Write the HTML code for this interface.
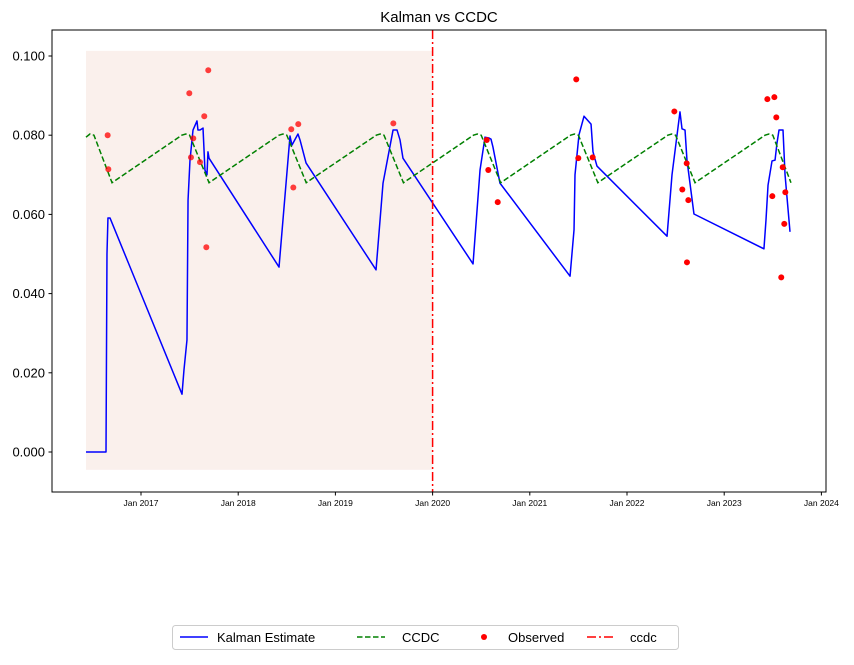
<!DOCTYPE html>
<html><head><meta charset="utf-8"><style>
body{margin:0;background:#fff;width:854px;height:660px;overflow:hidden}
svg text{font-family:"Liberation Sans",sans-serif}
</style></head><body>
<svg id="chart" width="854" height="660" xmlns="http://www.w3.org/2000/svg"></svg>
<script>
const kalmanYears=[2016.434,2016.640,2016.650,2016.660,2016.681,2017.422,2017.442,2017.473,2017.484,2017.504,2017.535,2017.576,2017.586,2017.607,2017.638,2017.658,2017.679,2017.689,2017.700,2018.420,2018.533,2018.553,2018.615,2018.636,2018.698,2019.418,2019.490,2019.593,2019.634,2019.665,2019.695,2020.416,2020.488,2020.539,2020.580,2020.601,2020.621,2020.693,2021.414,2021.455,2021.465,2021.506,2021.558,2021.630,2021.650,2021.691,2022.412,2022.463,2022.545,2022.566,2022.597,2022.617,2022.689,2023.409,2023.430,2023.451,2023.492,2023.523,2023.543,2023.564,2023.605,2023.626,2023.677];
const kalmanValues=[0,0,0.050,0.0591,0.0591,0.0146,0.0207,0.0283,0.0636,0.0737,0.0813,0.0836,0.0813,0.0813,0.0818,0.0712,0.0700,0.0758,0.0742,0.0467,0.0798,0.0775,0.0803,0.0788,0.0730,0.0460,0.0679,0.0813,0.0813,0.0788,0.0742,0.0475,0.0712,0.0795,0.0793,0.0790,0.0770,0.0679,0.0444,0.0561,0.0700,0.0801,0.0848,0.0828,0.0758,0.0722,0.0545,0.0700,0.0859,0.0816,0.0813,0.0737,0.0601,0.0513,0.0586,0.0674,0.0735,0.0737,0.0780,0.0813,0.0813,0.0700,0.0556];
const ccdcYears=[2016.434,2016.475,2016.516,2016.702,2017.42,2017.46,2017.50,2017.70,2018.42,2018.46,2018.50,2018.70,2019.42,2019.46,2019.50,2019.70,2020.42,2020.46,2020.50,2020.70,2021.42,2021.46,2021.50,2021.70,2022.42,2022.46,2022.50,2022.70,2023.42,2023.46,2023.50,2023.687];
const ccdcValues=[0.0795,0.0803,0.0800,0.068,0.0800,0.0803,0.0800,0.068,0.0800,0.0803,0.0800,0.068,0.0800,0.0803,0.0800,0.068,0.0800,0.0803,0.0800,0.068,0.0800,0.0803,0.0800,0.068,0.0800,0.0803,0.0800,0.068,0.0800,0.0803,0.0800,0.068];
const obsYears=[2016.657,2016.664,2017.497,2017.692,2017.651,2017.538,2017.514,2017.607,2017.672,2018.546,2018.618,2018.567,2019.596,2021.478,2020.573,2020.670,2020.557,2021.499,2021.647,2022.487,2022.614,2022.569,2022.631,2022.617,2023.444,2023.516,2023.536,2023.602,2023.495,2023.629,2023.618,2023.587];
const obsValues=[0.0800,0.0714,0.0906,0.0964,0.0848,0.0792,0.0744,0.0732,0.0517,0.0815,0.0828,0.0668,0.0830,0.0941,0.0712,0.0631,0.0788,0.0742,0.0744,0.0860,0.0729,0.0663,0.0636,0.0479,0.0891,0.0896,0.0845,0.0719,0.0646,0.0656,0.0576,0.0441];
const yTicks=[0,0.02,0.04,0.06,0.08,0.10];
const yTickLabels=["0.000","0.020","0.040","0.060","0.080","0.100"];
const xTicks=[2017,2018,2019,2020,2021,2022,2023,2024];
const xTickLabels=["Jan 2017","Jan 2018","Jan 2019","Jan 2020","Jan 2021","Jan 2022","Jan 2023","Jan 2024"];
const breakYear=2020.0;
const shadeRange=[2016.434,2020.0,-0.0045,0.1013];

const L=52,R=826,T=30,B=492;
const xs=t=>141+(t-2017)*97.2;
const ys=v=>452-v*3960;
const svg=document.getElementById('chart');
const NS='http://www.w3.org/2000/svg';
function mk(tag,attrs,parent){const e=document.createElementNS(NS,tag);for(const k in attrs)e.setAttribute(k,attrs[k]);(parent||svg).appendChild(e);return e;}

let e=mk('rect',{x:L,y:T,width:R-L,height:B-T,fill:'#fff'});


e=mk('rect',{x:xs(shadeRange[0]),y:ys(shadeRange[3]),width:xs(shadeRange[1])-xs(shadeRange[0]),height:ys(shadeRange[2])-ys(shadeRange[3]),fill:'#faf0ec'});



e=mk('polyline',{points:kalmanYears.map((t,i)=>xs(t)+','+ys(kalmanValues[i])).join(' '),fill:'none',stroke:'#0000ff','stroke-width':1.5,'stroke-linejoin':'round'});


e=mk('polyline',{points:ccdcYears.map((t,i)=>xs(t)+','+ys(ccdcValues[i])).join(' '),fill:'none',stroke:'#008000','stroke-width':1.5,'stroke-dasharray':'5.5,2.5'});


obsYears.forEach((t,i)=>{
  const c=mk('circle',{cx:xs(t),cy:ys(obsValues[i]),r:3,fill:'#ff0000','fill-opacity':t<breakYear?0.75:1});
  
  
});
e=mk('line',{x1:xs(breakYear),x2:xs(breakYear),y1:T,y2:B,stroke:'#ff0000','stroke-width':1.5,'stroke-dasharray':'9,3,2,3'});



e=mk('rect',{x:L,y:T,width:R-L,height:B-T,fill:'none',stroke:'#000','stroke-width':1});



yTicks.forEach((v,i)=>{
  const tk=mk('line',{x1:L-3.5,x2:L,y1:ys(v),y2:ys(v),stroke:'#000'});
  
  
  const tx=mk('text',{x:L-7,y:ys(v)+4.5,'text-anchor':'end','font-size':13});
  tx.textContent=yTickLabels[i];
  
  
});
xTicks.forEach((t,i)=>{
  const tk=mk('line',{x1:xs(t),x2:xs(t),y1:B,y2:B+3.5,stroke:'#000'});
  
  
  const tx=mk('text',{x:xs(t),y:B+14,'text-anchor':'middle','font-size':8.5});
  tx.textContent=xTickLabels[i];
  
  
});
e=mk('text',{x:(L+R)/2,y:22,'text-anchor':'middle','font-size':15});
e.textContent='Kalman vs CCDC';



const lg=mk('g',{});


mk('rect',{x:172.5,y:625.5,width:506,height:24,rx:3,fill:'#fff',stroke:'#ccc'},lg);
mk('line',{x1:180,x2:208,y1:637,y2:637,stroke:'#0000ff','stroke-width':1.5},lg);
e=mk('text',{x:217,y:642,'font-size':13},lg);e.textContent='Kalman Estimate';


mk('line',{x1:357,x2:385,y1:637,y2:637,stroke:'#008000','stroke-width':1.5,'stroke-dasharray':'5.5,2.5'},lg);
e=mk('text',{x:402,y:642,'font-size':13},lg);e.textContent='CCDC';


mk('circle',{cx:484,cy:637,r:3,fill:'#ff0000'},lg);
e=mk('text',{x:508,y:642,'font-size':13},lg);e.textContent='Observed';


mk('line',{x1:587,x2:615,y1:637,y2:637,stroke:'#ff0000','stroke-width':1.5,'stroke-dasharray':'9,3,2,3'},lg);
e=mk('text',{x:630,y:642,'font-size':13},lg);e.textContent='ccdc';


</script>
</body></html>
